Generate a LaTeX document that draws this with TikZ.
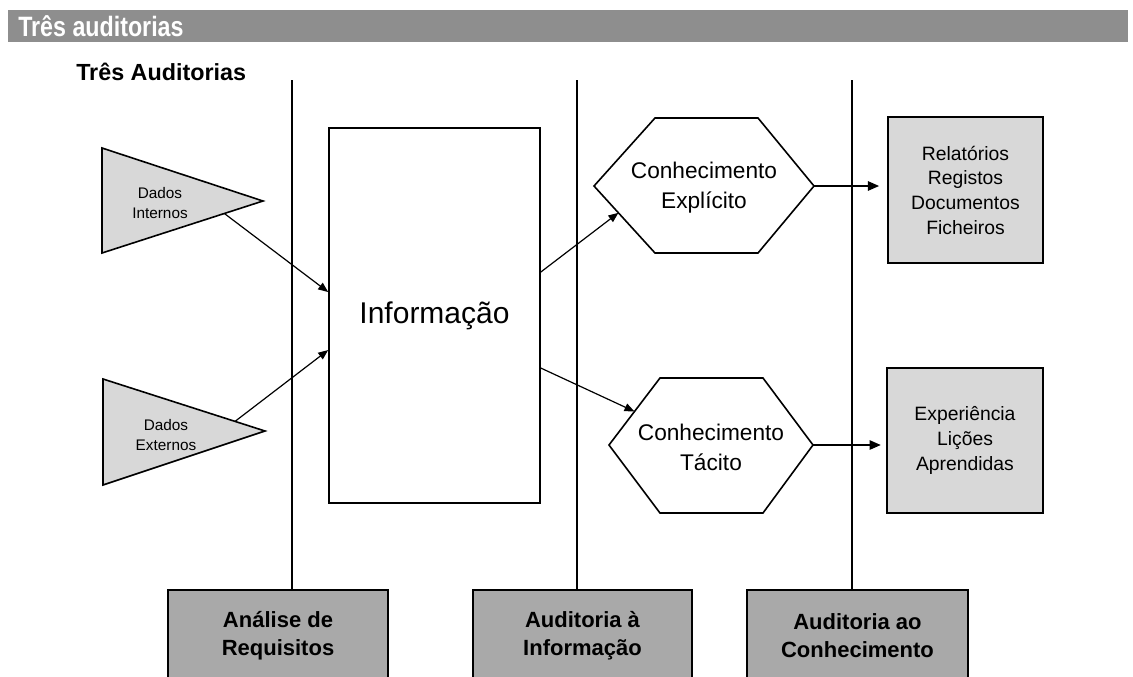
\documentclass[tikz,border=0pt]{standalone}
\usepackage{fontspec}
\setmainfont{Liberation Sans}
\usetikzlibrary{arrows.meta,calc}
\definecolor{hdrgray}{HTML}{8E8E8E}
\definecolor{boxgray}{HTML}{A9A9A9}
\definecolor{litegray}{HTML}{D8D8D8}
\begin{document}
\begin{tikzpicture}[x=0.75pt,y=-0.75pt,
  lbl/.style={align=center,inner sep=0pt},
  arr/.style={-{Triangle[length=7.5pt,width=6pt]},line width=0.9pt},
  arrthick/.style={-{Triangle[length=8.5pt,width=7pt]},line width=1.4pt},
  divider/.style={line width=0.9pt},
  lightshape/.style={fill=litegray,draw=black,line width=1.2pt,line join=miter},
  hexshape/.style={fill=white,draw=black,line width=1.2pt},
  srcbox/.style={draw=black,fill=litegray,line width=1.2pt,align=center,inner sep=0pt,
    font=\fontsize{14.5}{18.5}\selectfont},
  auditbox/.style={draw=black,fill=boxgray,line width=1.2pt,align=center,inner sep=0pt,
    minimum height=69pt,font=\bfseries\fontsize{16.5}{21}\selectfont},
  dadoslbl/.style={lbl,font=\fontsize{11.5}{15}\selectfont},
  conlbl/.style={lbl,font=\fontsize{17}{22.5}\selectfont}]
\useasboundingbox (0,0) rectangle (1133,676);
\clip (0,0) rectangle (1133,676);

% header
\node[fill=hdrgray,minimum width=840pt,minimum height=24pt,anchor=north west,inner sep=0pt] (hdr) at (8,10) {};
\node[anchor=west,text=white,inner sep=0pt,font=\bfseries\fontsize{21}{21}\selectfont] (ttl) at (18,26) {\scalebox{0.83}[1]{Três auditorias}};
\node[anchor=west,inner sep=0pt,font=\bfseries\fontsize{17.5}{17.5}\selectfont] (sub) at (76,72) {Três Auditorias};

% bottom audit boxes
\node[auditbox,minimum width=165pt] (b1) at (278,636) {Análise de\\Requisitos};
\node[auditbox,minimum width=164.25pt] (b2) at (582.5,636) {Auditoria à\\Informação};
\node[auditbox,minimum width=165.75pt] (b3) at (857.5,636) {Auditoria ao\\Conhecimento};

% vertical dividers
\coordinate (v1) at (292,80);
\coordinate (v2) at (577,80);
\coordinate (v3) at (852,80);
\draw[divider] (v1) -- (v1 |- b1.north);
\draw[divider] (v2) -- (v2 |- b2.north);
\draw[divider] (v3) -- (v3 |- b3.north);

% triangles
\coordinate (tiA) at (102,148);
\coordinate (tiB) at (102,253);
\coordinate (tiT) at (263,201);
\filldraw[lightshape] (tiA) -- (tiT) -- (tiB) -- cycle;
\node[dadoslbl] (ti) at (160,203) {Dados\\Internos};

\coordinate (teA) at (103,379);
\coordinate (teB) at (103,485);
\coordinate (teT) at (265,431);
\filldraw[lightshape] (teA) -- (teT) -- (teB) -- cycle;
\node[dadoslbl] (te) at (166,435) {Dados\\Externos};

% information
\node[draw=black,line width=1.2pt,minimum width=158.25pt,minimum height=281.25pt,inner sep=0pt,
  font=\fontsize{22.5}{22.5}\selectfont] (info) at (434.5,315.5) {Informação};

% hexagons
\coordinate (exL) at (594,186);
\coordinate (exTL) at (655,118);
\coordinate (exTR) at (758,118);
\coordinate (exR) at (814,186);
\coordinate (exBR) at (758,253);
\coordinate (exBL) at (655,253);
\filldraw[hexshape] (exL) -- (exTL) -- (exTR) -- (exR) -- (exBR) -- (exBL) -- cycle;
\node[conlbl] (ex) at (704,188) {Conhecimento\\Explícito};

\coordinate (tcL) at (609,445);
\coordinate (tcTL) at (660,378);
\coordinate (tcTR) at (763,378);
\coordinate (tcR) at (813,445);
\coordinate (tcBR) at (763,513);
\coordinate (tcBL) at (660,513);
\filldraw[hexshape] (tcL) -- (tcTL) -- (tcTR) -- (tcR) -- (tcBR) -- (tcBL) -- cycle;
\node[conlbl] (tc) at (711,447) {Conhecimento\\Tácito};

% right boxes
\node[srcbox,minimum width=116.25pt,minimum height=109.5pt] (r1) at (965.5,190) {Relatórios\\Registos\\Documentos\\Ficheiros};
\node[srcbox,minimum width=117pt,minimum height=108.75pt] (r2) at (965,440.5) {Experiência\\Lições\\Aprendidas};

% connectors
\draw[arr] ($(tiT)!0.24!(tiB)$) -- ([yshift=17.6pt]info.west);
\draw[arr] ($(teT)!0.185!(teA)$) -- ([yshift=-25.9pt]info.west);
\draw[arr] ([yshift=32.6pt]info.east) -- ($(exL)!0.4!(exBL)$);
\draw[arr] ([yshift=-39.4pt]info.east) -- ($(tcL)!0.5!(tcTL)$);
\draw[arrthick,shorten >=6pt] (exR) -- (exR -| r1.west);
\draw[arrthick,shorten >=4pt] (tcR) -- (tcR -| r2.west);
\end{tikzpicture}
\end{document}
